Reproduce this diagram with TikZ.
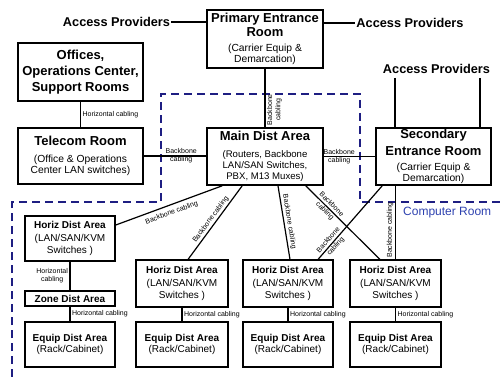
\documentclass[tikz,border=0pt]{standalone}
\usepackage{fontspec}
\setmainfont{Liberation Sans}
\usetikzlibrary{calc}
\definecolor{dashblue}{RGB}{30,30,130}
\definecolor{roomblue}{RGB}{45,65,175}
\newcommand\boldttl[1]{{\bfseries\fontsize{13}{15}\selectfont #1}}
\begin{document}
\begin{tikzpicture}[x=1pt,y=-1pt,
  box/.style={draw, line width=1.6pt, align=center, inner sep=0pt, font=\fontsize{10.3}{11.8}\selectfont},
  lbox/.style={box, font=\fontsize{10}{12.3}\selectfont},
  conn/.style={line width=1.2pt},
  lab/.style={font=\fontsize{7}{8.3}\selectfont, inner sep=1.5pt},
  dlab/.style={lab, font=\fontsize{7}{9.5}\selectfont, align=center},
  ap/.style={font=\bfseries\fontsize{12.75}{15}\selectfont, inner sep=1pt},
  crdash/.style={draw=dashblue, line width=1.8pt, dash pattern=on 8pt off 5pt}
]
\useasboundingbox (0,0) rectangle (501,377);

% computer room outline
\draw[crdash] (12,377) -- (12,202) -- (161,202) -- (161,94) -- (360,94) -- (360,202) -- (501,202);
\node[anchor=west, text=roomblue, font=\fontsize{12}{14}\selectfont, inner sep=0pt] (cr) at (403,213) {Computer Room};

% upper boxes
\node[box, minimum width=125pt, minimum height=58pt, font=\bfseries\fontsize{13}{16}\selectfont] (off) at (80.5,72) {Offices,\\Operations Center,\\Support Rooms};
\node[box, minimum width=125pt, minimum height=56pt] (tel) at (80.5,156) {\boldttl{Telecom Room}\\[5pt](Office \& Operations\\Center LAN switches)};
\node[box, minimum width=116pt, minimum height=58pt] (pri) at (265,39) {\boldttl{Primary Entrance}\\[2pt]\boldttl{Room}\\[3pt](Carrier Equip \&\\Demarcation)};
\node[box, minimum width=116pt, minimum height=57pt, font=\fontsize{9.6}{11.3}\selectfont] (main) at (265,156.5) {\boldttl{Main Dist Area}\\[5.5pt](Routers, Backbone\\LAN/SAN Switches,\\PBX, M13 Muxes)};
\node[box, minimum width=115pt, minimum height=57pt] (sec) at (433.5,156.5) {\boldttl{Secondary}\\[5pt]\boldttl{Entrance Room}\\[3pt](Carrier Equip \&\\Demarcation)};

% access providers
\node[ap] (apL) at (116.5,22) {Access Providers};
\node[ap] (apR) at (410,23) {Access Providers};
\node[ap] (apS) at (436.5,69) {Access Providers};
\coordinate (s1) at (395,78);
\coordinate (s2) at (480,78);

% lower boxes
\node[lbox, minimum width=90pt, minimum height=45pt] (h1) at (70,238.5) {\textbf{Horiz Dist Area}\\(LAN/SAN/KVM\\Switches )};
\node[lbox, minimum width=90pt, minimum height=15pt] (zone) at (70,298.5) {\textbf{Zone Dist Area}};
\node[lbox, minimum width=90pt, minimum height=45pt, font=\fontsize{10}{11}\selectfont] (e1) at (70,344.5) {\textbf{Equip Dist Area}\\(Rack/Cabinet)};
\node[lbox, minimum width=92pt, minimum height=46.5pt] (h2) at (182,283.5) {\textbf{Horiz Dist Area}\\(LAN/SAN/KVM\\Switches )};
\node[lbox, minimum width=92pt, minimum height=45pt, font=\fontsize{10}{11}\selectfont] (e2) at (182,344.5) {\textbf{Equip Dist Area}\\(Rack/Cabinet)};
\node[lbox, minimum width=90pt, minimum height=46.5pt] (h3) at (288,283.5) {\textbf{Horiz Dist Area}\\(LAN/SAN/KVM\\Switches )};
\node[lbox, minimum width=90pt, minimum height=45pt, font=\fontsize{10}{11}\selectfont] (e3) at (288,344.5) {\textbf{Equip Dist Area}\\(Rack/Cabinet)};
\node[lbox, minimum width=91pt, minimum height=46.5pt] (h4) at (395.5,283.5) {\textbf{Horiz Dist Area}\\(LAN/SAN/KVM\\Switches )};
\node[lbox, minimum width=91pt, minimum height=45pt, font=\fontsize{10}{11}\selectfont] (e4) at (395.5,344.5) {\textbf{Equip Dist Area}\\(Rack/Cabinet)};

% connectors, top
\draw[conn] (apL.east) -- (apL.east -| pri.west);
\draw[conn] (apR.west -| pri.east) -- (apR.west);
\draw[conn] (s1) -- (s1 |- sec.north);
\draw[conn] (s2) -- (s2 |- sec.north);
\draw[conn] (off) -- (tel) node[lab, midway, right] {Horizontal cabling};
\draw[conn] (tel.east) -- (tel.east -| main.west) node[lab, pos=0.6, align=center] {Backbone\\cabling};
\draw[conn] (pri) -- (main) node[lab, pos=0.7, anchor=north, rotate=90, align=center] {Backbone\\cabling};
\draw[conn] (main) -- (sec) node[lab, pos=0.3, align=center] {Backbone\\cabling};

% backbone to horizontal areas
\draw[conn] ([yshift=13.5pt]h1.east) -- ([xshift=16pt]main.south west) node[lab, midway, sloped, below=2.5pt] {Backbone cabling};
\draw[conn] ([xshift=6pt]h2.north) -- ([xshift=36pt]main.south west) node[lab, midway, sloped, above] {Backbone cabling};
\draw[conn] ([xshift=13pt]main.south) -- ([xshift=2pt]h3.north) node[lab, midway, sloped, above] {Backbone cabling};
\draw[conn] ([xshift=-18pt]main.south east) -- ([xshift=-15.5pt]h4.north) node[dlab, pos=0.3, sloped] {Backbone\\cabling};
\draw[conn] ([xshift=30pt]h3.north) -- ([xshift=7pt]sec.south west) node[dlab, pos=0.22, sloped] {Backbone\\cabling};
\draw[conn] (h4.north) -- (h4.north |- sec.south) node[lab, pos=0.4, sloped, above] {Backbone cabling};

% horizontal cabling
\draw[conn] (h1) -- (zone) node[lab, midway, left, align=center] {Horizontal\\cabling};
\draw[conn] (zone) -- (e1) node[lab, midway, right] {Horizontal cabling};
\draw[conn] (h2) -- (e2) node[lab, midway, right] {Horizontal cabling};
\draw[conn] (h3) -- (e3) node[lab, midway, right] {Horizontal cabling};
\draw[conn] (h4) -- (e4) node[lab, midway, right] {Horizontal cabling};
\end{tikzpicture}
\end{document}
